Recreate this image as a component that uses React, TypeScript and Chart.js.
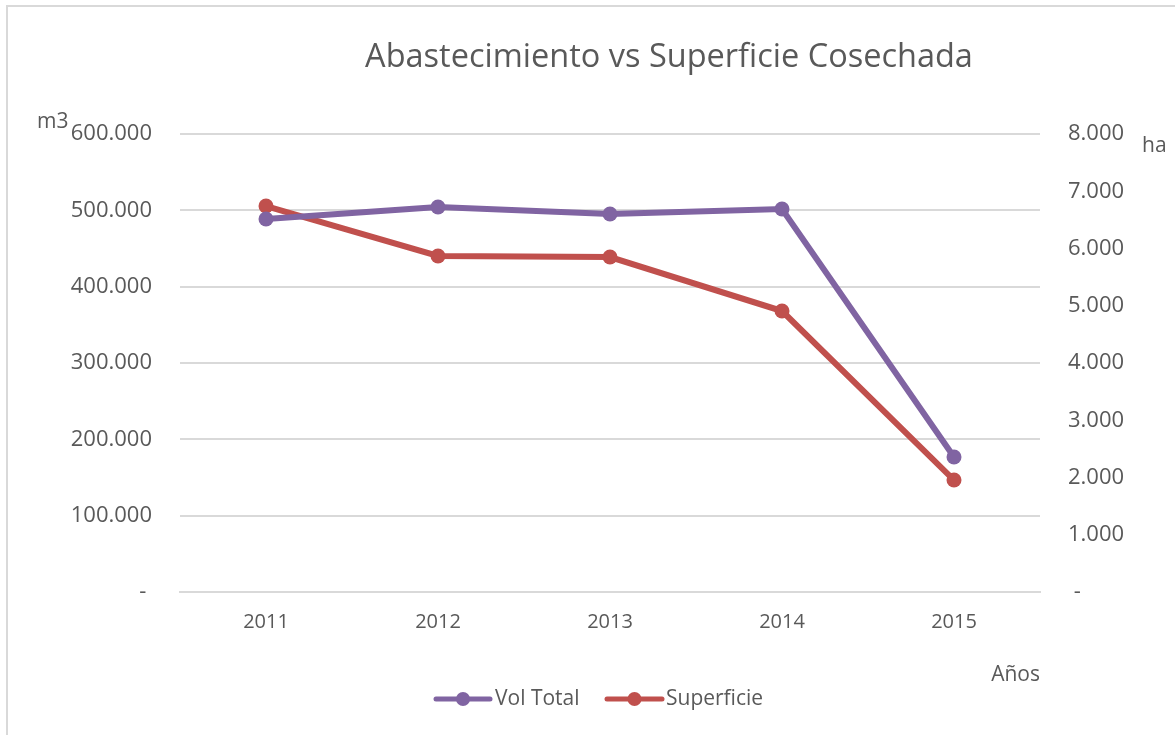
import React, { useEffect, useRef } from "react";
import { Chart, registerables } from "chart.js";

Chart.register(...registerables);

const years = ["2011", "2012", "2013", "2014", "2015"];
const volTotal = [488700, 504400, 495200, 501800, 176900];
const superficie = [6742, 5869, 5851, 4908, 1956];

const FONT = "'Open Sans', 'Noto Sans', sans-serif";
const TEXT = "#595959";
const PURPLE = "#8064A2";
const RED = "#C0504D";
const GRID = "#D9D9D9";

const fmt = (v: number) =>
  v === 0 ? "-" : Math.round(v).toString().replace(/\B(?=(\d{3})+(?!\d))/g, ".");

const decorPlugin = {
  id: "decor",
  afterDraw(chart: any) {
    const ctx = chart.ctx as CanvasRenderingContext2D;
    ctx.save();
    ctx.fillStyle = TEXT;
    ctx.textBaseline = "middle";
    // title
    ctx.font = `32.5px ${FONT}`;
    ctx.textAlign = "center";
    ctx.fillText("Abastecimiento vs Superficie Cosechada", 669, 58);
    // axis titles
    ctx.font = `21px ${FONT}`;
    ctx.textAlign = "left";
    ctx.fillText("m3", 37, 122);
    ctx.fillText("ha", 1142, 146);
    ctx.textAlign = "right";
    ctx.fillText("Años", 1040, 675);
    // legend
    const items = chart.data.datasets.map((d: any) => ({ label: d.label, color: d.borderColor }));
    const pos = [
      { x0: 436, x1: 490, tx: 495 },
      { x0: 607, x1: 662, tx: 666 },
    ];
    const y = 699;
    items.forEach((it: any, i: number) => {
      const p = pos[i];
      ctx.strokeStyle = it.color;
      ctx.lineWidth = 5;
      ctx.lineCap = "round";
      ctx.beginPath();
      ctx.moveTo(p.x0, y);
      ctx.lineTo(p.x1, y);
      ctx.stroke();
      ctx.fillStyle = it.color;
      ctx.beginPath();
      ctx.arc((p.x0 + p.x1) / 2, y, 7, 0, Math.PI * 2);
      ctx.fill();
      ctx.fillStyle = TEXT;
      ctx.textAlign = "left";
      ctx.font = `21px ${FONT}`;
      ctx.fillText(it.label, p.tx, y);
    });
    ctx.restore();
  },
};

export default function App() {
  const ref = useRef<HTMLCanvasElement>(null);
  useEffect(() => {
    if (!ref.current) return;
    const chart = new Chart(ref.current, {
      type: "line",
      data: {
        labels: years,
        datasets: [
          {
            label: "Vol Total",
            data: volTotal,
            yAxisID: "y",
            borderColor: PURPLE,
            backgroundColor: PURPLE,
            borderWidth: 6,
            pointRadius: 7.5,
            pointBackgroundColor: PURPLE,
            pointBorderWidth: 0,
            tension: 0,
          },
          {
            label: "Superficie",
            data: superficie,
            yAxisID: "y1",
            borderColor: RED,
            backgroundColor: RED,
            borderWidth: 6,
            pointRadius: 7.5,
            pointBackgroundColor: RED,
            pointBorderWidth: 0,
            tension: 0,
          },
        ],
      },
      options: {
        animation: false,
        responsive: true,
        maintainAspectRatio: false,
        layout: { padding: { top: 134, left: 0, right: 0, bottom: 0 } },
        plugins: {
          legend: { display: false },
          title: { display: false },
          tooltip: { enabled: false },
        },
        scales: {
          x: {
            offset: true,
            grid: { display: false, drawTicks: false },
            border: { display: true, color: GRID, width: 2 },
            ticks: { color: TEXT, font: { family: FONT, size: 20 }, padding: 18, maxRotation: 0 },
            afterFit: (s: any) => { s.height = 143; },
          },
          y: {
            position: "left",
            min: 0,
            max: 600000,
            grid: { color: GRID, lineWidth: 2, drawTicks: false },
            border: { display: false },
            ticks: {
              stepSize: 100000,
              color: TEXT,
              font: { family: FONT, size: 22 },
              padding: 28,
              callback: (v: any) => (Number(v) === 0 ? "- " : fmt(Number(v))),
            },
            afterFit: (s: any) => { s.width = 180; },
          },
          y1: {
            position: "right",
            min: 0,
            max: 8000,
            grid: { display: false, drawTicks: false },
            border: { display: false },
            ticks: {
              stepSize: 1000,
              color: TEXT,
              font: { family: FONT, size: 22 },
              padding: 28,
              callback: (v: any) => (Number(v) === 0 ? " -" : fmt(Number(v))),
            },
            afterFit: (s: any) => { s.width = 135; },
          },
        },
      },
      plugins: [decorPlugin],
    });
    return () => chart.destroy();
  }, []);
  return (
    <div style={{ position: "fixed", left: 0, top: 0, width: 1175, height: 735, background: "#fff" }}>
      <div
        style={{
          position: "absolute",
          left: 6,
          top: 5,
          right: 0,
          bottom: 0,
          borderLeft: "2px solid #D9D9D9",
          borderTop: "2px solid #D9D9D9",
        }}
      />
      <canvas ref={ref} style={{ position: "absolute", left: 0, top: 0 }} />
    </div>
  );
}
